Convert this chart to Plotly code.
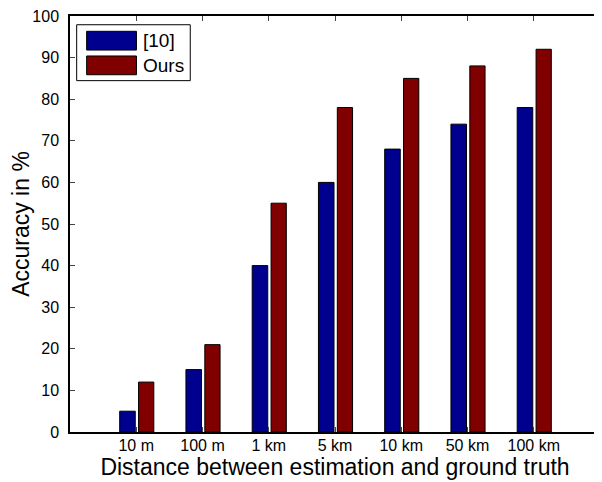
import plotly.graph_objects as go

categories = ["10 m", "100 m", "1 km", "5 km", "10 km", "50 km", "100 km"]
series_names = ["[10]", "Ours"]
values_ref10 = [5, 15, 40, 60, 68, 74, 78]
values_ours = [12, 21, 55, 78, 85, 88, 92]
y_ticks = list(range(0, 101, 10))

positions = list(range(1, len(categories) + 1))
colors = ["#00008F", "#800000"]
FONT = "Liberation Sans, Arial, Helvetica, sans-serif"

fig = go.Figure()
fig.add_trace(go.Bar(x=positions, y=values_ref10, name=series_names[0],
                     marker=dict(color=colors[0], line=dict(color="black", width=1)),
                     width=0.235, offset=-0.25, showlegend=False))
fig.add_trace(go.Bar(x=positions, y=values_ours, name=series_names[1],
                     marker=dict(color=colors[1], line=dict(color="black", width=1)),
                     width=0.23, offset=0.035, showlegend=False))

# custom MATLAB-like legend
box = dict(x0=0.0126, x1=0.2269, y0=0.8446, y1=0.979)
fig.add_shape(type="rect", xref="paper", yref="paper", **box,
              line=dict(color="black", width=1), fillcolor="white", layer="above")
sw_y = [(0.9181, 0.9632), (0.8588, 0.9039)]
txt_y = [0.9407, 0.8814]
for i in range(2):
    fig.add_shape(type="rect", xref="paper", yref="paper",
                  x0=0.0314, x1=0.1254, y0=sw_y[i][0], y1=sw_y[i][1],
                  line=dict(color="black", width=1), fillcolor=colors[i], layer="above")
    fig.add_annotation(xref="paper", yref="paper", x=0.1348, y=txt_y[i],
                       xanchor="left", yanchor="middle", text=series_names[i],
                       showarrow=False, font=dict(family=FONT, size=19, color="black"))

# the page body has an 8px default margin, so the figure is sized to fit the window
fig.update_layout(
    width=594, height=474,
    margin=dict(l=62, r=0, t=2, b=50),
    paper_bgcolor="white", plot_bgcolor="white",
    font=dict(family=FONT, color="black"),
    barmode="overlay",
    xaxis=dict(range=[0, 8], tickvals=positions, ticktext=categories,
               ticks="inside", ticklen=5, tickcolor="#444", mirror="ticks",
               showline=True, linecolor="black", linewidth=1.5, showgrid=False,
               zeroline=False, tickfont=dict(size=16, color="black"),
               ticklabelstandoff=-2,
               title=dict(text="Distance between estimation and ground truth",
                          font=dict(size=23, color="black"), standoff=2)),
    yaxis=dict(range=[0, 100], tickvals=y_ticks,
               ticks="inside", ticklen=5, tickcolor="#444", mirror="ticks",
               showline=True, linecolor="black", linewidth=1.5, showgrid=False,
               zeroline=False, tickfont=dict(size=16, color="black"),
               ticklabelstandoff=6, ticklabeloverflow="allow",
               title=dict(text="Accuracy in %", font=dict(size=23, color="black"),
                          standoff=0)),
)

fig.write_html("out.html")
